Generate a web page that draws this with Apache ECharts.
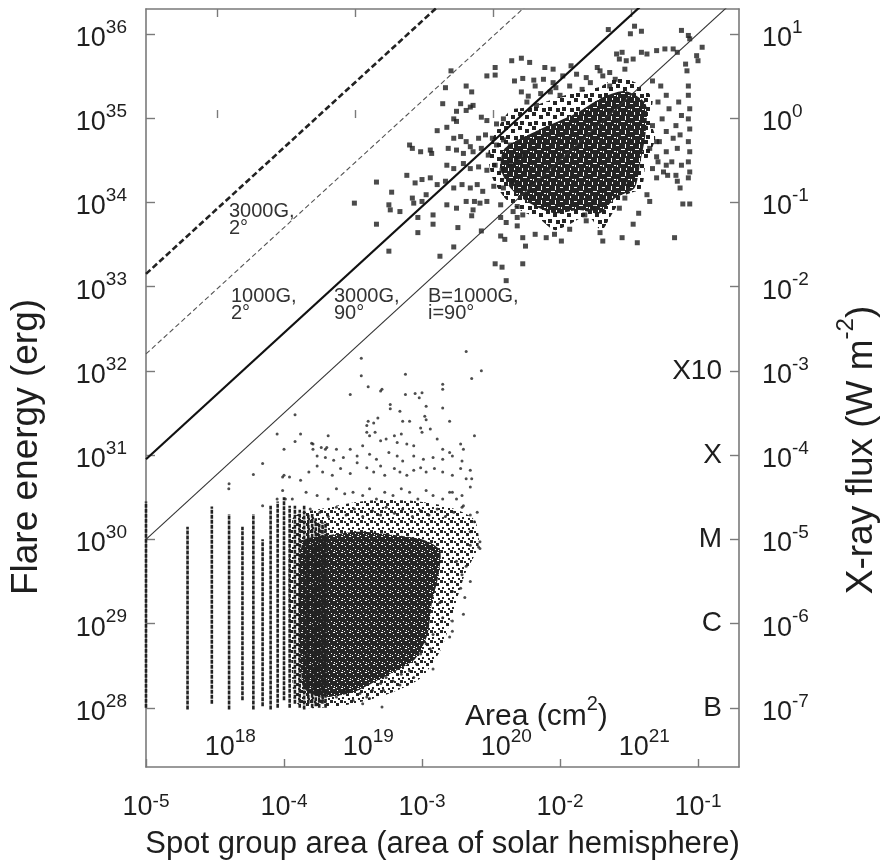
<!DOCTYPE html>
<html><head><meta charset="utf-8">
<script src="https://cdn.jsdelivr.net/npm/echarts@6/dist/echarts.min.js"></script>
<style>html,body{margin:0;padding:0;background:#fff}#chart{width:881px;height:865px}</style>
</head><body><div id="chart"></div>
<script>
// ---------- axis / tick values (all in log10 units) ----------
const xTickExps = [-5, -4, -3, -2, -1];            // area of solar hemisphere
const cmTickExps = [18, 19, 20, 21];               // area in cm^2
const yTickExps = [28, 29, 30, 31, 32, 33, 34, 35, 36]; // flare energy (erg)
const fluxTickExps = [-7, -6, -5, -4, -3, -2, -1, 0, 1]; // X-ray flux (W m^-2)
const flareClassExps = [-7, -6, -5, -4, -3];
const flareClassNames = ['B', 'C', 'M', 'X', 'X10'];
const xRange = [-5, -0.703];
const yRange = [27.298, 36.294];
const fluxOffset = 35;          // log10 erg -> log10 W m^-2
const hemisphereLogCm2 = 22.483; // log10(2 pi R_sun^2)

// ---------- model lines  [log area, log energy] ----------
const lineB1000i90 = [[-5, 30.0], [-0.7, 36.45]];
const lineB3000i90 = [[-5, 30.95], [-1.2, 36.65]];
const lineB1000i2 = [[-5, 32.2], [-2.0, 36.7]];
const lineB3000i2 = [[-5, 33.15], [-2.5, 36.9]];

// ---------- solar flares: quantised spot areas (vertical stripes) ----------
const stripeLogArea = [-5, -4.699, -4.523, -4.398, -4.301, -4.222, -4.155, -4.097, -4.046, -4.000, -3.959, -3.921, -3.886, -3.854, -3.824, -3.796, -3.770, -3.745, -3.721, -3.699];
const stripeLogELow = [28.0, 27.98, 28.05, 27.98, 28.09, 27.98, 28.02, 27.98, 28.0, 28.09, 28.0, 28.05, 28.0, 27.98, 28.05, 28.0, 28.02, 28.0, 28.05, 28.0];
const stripeLogEHigh = [30.45, 30.15, 30.39, 30.3, 30.15, 30.3, 30.0, 30.4, 30.45, 30.5, 30.4, 30.4, 30.35, 30.4, 30.3, 30.3, 30.25, 30.2, 30.2, 30.2];

// ---------- solar flares: dense region outlines ----------
const solarHalo = [[-3.94,30.23],[-3.67,30.38],[-3.38,30.46],[-3.09,30.46],[-2.80,30.38],[-2.62,30.23],[-2.59,29.93],[-2.69,29.58],[-2.78,29.11],[-2.86,28.70],[-3.01,28.35],[-3.27,28.15],[-3.56,28.03],[-3.85,28.00],[-3.93,28.11]];
const solarCore = [[-3.87,29.96],[-3.67,30.05],[-3.45,30.09],[-3.20,30.05],[-2.98,29.99],[-2.87,29.87],[-2.88,29.58],[-2.93,29.23],[-2.96,28.87],[-3.05,28.58],[-3.20,28.43],[-3.34,28.31],[-3.49,28.19],[-3.67,28.13],[-3.81,28.17],[-3.87,28.29]];

// ---------- solar flares: individual points ----------
const solarFlares = [[-2.68,32.23],[-2.57,32.00],[-2.64,31.91],[-3.44,32.15],[-3.44,31.94],[-3.12,31.96],[-3.39,31.81],[-3.30,31.76],[-3.29,31.78],[-3.52,31.72],[-3.12,31.72],[-3.05,31.73],[-3.00,31.74],[-3.02,31.68],[-2.85,31.84],[-2.85,31.78],[-3.92,31.48],[-3.23,31.60],[-3.23,31.55],[-3.16,31.52],[-2.97,31.58],[-2.98,31.46],[-2.97,31.42],[-2.85,31.56],[-2.80,31.40],[-3.39,31.40],[-3.40,31.35],[-3.35,31.38],[-3.32,31.44],[-3.14,31.40],[-3.09,31.40],[-3.01,31.32],[-3.00,31.27],[-2.94,31.31],[-4.05,31.25],[-3.88,31.25],[-3.92,31.16],[-3.68,31.23],[-2.62,31.23],[-4.00,31.07],[-3.80,31.14],[-3.79,31.07],[-3.40,31.27],[-3.38,31.23],[-3.34,31.27],[-3.30,31.17],[-3.26,31.19],[-3.20,31.23],[-3.18,31.15],[-3.15,31.25],[-3.11,31.13],[-3.06,31.11],[-2.89,31.19],[-2.85,31.07],[-2.80,31.03],[-2.72,31.13],[-2.70,31.07],[-3.70,31.07],[-3.62,31.07],[-3.52,31.07],[-3.43,31.11],[-3.76,30.99],[-3.70,30.97],[-3.64,30.94],[-3.57,30.97],[-3.47,30.99],[-3.38,31.01],[-3.33,30.95],[-3.24,31.03],[-3.18,30.99],[-3.14,30.93],[-3.06,30.99],[-2.99,30.95],[-2.92,30.97],[-2.85,30.95],[-2.78,30.99],[-2.71,30.93],[-2.65,30.82],[-2.64,30.72],[-3.82,30.80],[-3.76,30.87],[-3.72,30.80],[-3.65,30.76],[-3.59,30.84],[-3.52,30.78],[-3.47,30.91],[-3.40,30.85],[-3.35,30.80],[-3.30,30.87],[-3.27,30.76],[-3.20,30.84],[-3.16,30.80],[-3.11,30.76],[-3.06,30.82],[-3.01,30.85],[-2.97,30.80],[-2.91,30.84],[-2.85,30.80],[-2.78,30.76],[-2.72,30.84],[-2.68,30.72],[-4.01,30.74],[-3.96,30.74],[-3.88,30.70],[-4.01,30.58],[-2.65,30.62],[-2.71,30.52],[-2.80,30.56],[-2.60,30.32],[-2.62,30.21],[-2.65,30.09],[-2.58,29.97],[-2.59,29.91],[-3.84,30.56],[-3.76,30.52],[-3.68,30.48],[-3.62,30.60],[-3.56,30.54],[-3.50,30.56],[-3.43,30.52],[-3.38,30.60],[-3.33,30.48],[-3.27,30.56],[-3.21,30.52],[-3.15,30.60],[-3.09,30.56],[-3.03,30.48],[-2.97,30.58],[-2.92,30.52],[-2.85,30.48],[-2.78,30.56],[-2.75,30.48],[-2.70,30.40],[-2.65,29.93],[-2.58,29.89],[-2.75,29.74],[-2.68,29.68],[-2.71,29.58],[-2.65,29.50],[-2.78,29.38],[-2.72,29.42],[-2.69,29.31],[-2.70,29.11],[-2.87,29.25],[-2.85,29.07],[-2.78,29.03],[-2.78,28.91],[-2.80,28.84],[-2.89,28.99],[-2.92,28.87],[-2.97,28.76],[-2.94,28.70],[-2.92,28.46],[-3.01,28.64],[-3.04,28.52],[-3.09,28.44],[-3.06,28.36],[-3.15,28.40],[-3.16,28.27],[-3.21,28.32],[-3.28,28.21],[-3.26,28.36],[-3.30,28.29],[-3.36,28.21],[-3.40,28.13],[-3.45,28.17],[-3.50,28.09],[-3.56,28.21],[-3.62,28.13],[-3.67,28.17],[-3.72,28.09],[-3.29,28.01],[-3.38,28.11],[-3.43,28.05],[-4.398,30.66],[-4.222,30.77],[-4.155,30.90],[-4.0,30.76],[-4.05,30.48],[-3.99,30.48],[-3.94,30.48],[-4.155,30.40],[-4.40,30.60],[-3.79,31.13],[-3.73,31.09],[-3.69,31.09],[-3.81,30.36],[-3.74,30.32],[-3.68,30.27],[-3.62,30.38],[-3.55,30.29],[-3.49,30.36],[-3.43,30.27],[-3.36,30.34],[-3.30,30.29],[-3.26,30.38],[-3.20,30.31],[-3.14,30.36],[-3.07,30.27],[-3.01,30.34],[-2.95,30.29],[-2.89,30.36],[-2.83,30.27],[-2.77,30.32],[-2.71,30.38],[-2.65,30.29]];

// ---------- superflares: dense region outlines ----------
const superHalo = [[-2.47,34.82],[-2.36,35.09],[-2.22,35.13],[-2.04,35.23],[-1.86,35.32],[-1.71,35.37],[-1.58,35.49],[-1.42,35.39],[-1.33,35.23],[-1.35,34.99],[-1.31,34.76],[-1.38,34.46],[-1.41,34.17],[-1.53,34.08],[-1.62,33.87],[-1.70,33.67],[-1.80,33.84],[-1.93,33.74],[-2.04,33.67],[-2.14,33.79],[-2.29,33.91],[-2.40,34.05],[-2.49,34.29],[-2.52,34.58]];
const superCore = [[-2.40,34.64],[-2.14,34.87],[-1.89,35.05],[-1.71,35.23],[-1.53,35.32],[-1.38,35.17],[-1.38,34.82],[-1.42,34.46],[-1.46,34.17],[-1.60,34.05],[-1.71,33.87],[-1.86,33.91],[-2.04,33.87],[-2.22,33.99],[-2.36,34.17],[-2.43,34.40]];

// ---------- superflares: individual points ----------
const superflares = [[-2.35,35.68],[-2.28,35.71],[-2.47,35.60],[-2.53,35.50],[-2.47,35.51],[-2.79,35.56],[-2.33,35.44],[-2.27,35.47],[-2.68,35.38],[-2.83,35.36],[-2.64,35.31],[-2.28,35.31],[-2.85,35.17],[-2.72,35.17],[-2.65,35.13],[-2.68,35.09],[-2.63,35.15],[-2.75,35.08],[-2.77,34.99],[-2.75,34.96],[-2.57,35.01],[-2.53,34.97],[-2.46,34.93],[-2.41,34.99],[-2.89,34.85],[-2.82,34.89],[-3.09,34.68],[-3.07,34.64],[-3.01,34.60],[-2.94,34.62],[-2.93,34.58],[-2.77,34.76],[-2.72,34.78],[-2.68,34.72],[-2.65,34.66],[-2.59,34.76],[-2.54,34.80],[-2.49,34.76],[-2.81,34.64],[-2.75,34.62],[-2.70,34.58],[-2.63,34.60],[-2.57,34.64],[-2.52,34.56],[-2.46,34.68],[-2.41,34.74],[-2.36,34.68],[-2.82,34.44],[-2.77,34.40],[-2.70,34.46],[-2.65,34.40],[-2.59,34.42],[-2.53,34.38],[-2.47,34.44],[-2.42,34.38],[-2.36,34.46],[-2.31,34.52],[-2.27,34.56],[-3.11,34.32],[-3.05,34.23],[-3.00,34.27],[-2.94,34.29],[-2.89,34.21],[-2.83,34.25],[-2.77,34.17],[-2.71,34.21],[-2.65,34.17],[-2.60,34.21],[-2.56,34.13],[-2.48,34.19],[-2.41,34.17],[-2.34,34.25],[-3.33,34.24],[-3.22,34.12],[-3.49,33.99],[-3.24,33.97],[-3.23,33.91],[-3.16,33.89],[-3.07,34.05],[-3.06,33.99],[-3.00,34.01],[-2.97,34.09],[-2.82,33.97],[-2.75,33.93],[-2.68,34.01],[-2.62,34.01],[-2.58,33.99],[-2.53,34.01],[-2.63,33.91],[-2.43,33.97],[-3.03,33.82],[-2.92,33.85],[-3.33,33.74],[-3.03,33.64],[-2.92,33.74],[-2.74,33.70],[-2.64,33.84],[-2.57,33.66],[-2.43,33.82],[-2.39,33.76],[-2.34,33.89],[-2.31,33.95],[-2.27,33.85],[-3.24,33.42],[-2.77,33.47],[-2.87,33.36],[-2.43,33.60],[-2.40,33.56],[-2.47,33.27],[-2.42,33.23],[-2.27,33.27],[-2.25,33.48],[-2.27,33.58],[-2.39,33.07],[-1.65,36.05],[-1.49,36.00],[-1.46,36.09],[-1.41,36.03],[-1.12,36.04],[-1.07,35.98],[-1.06,35.94],[-0.97,35.84],[-1.01,35.74],[-1.00,35.68],[-1.59,35.76],[-1.55,35.78],[-1.57,35.70],[-1.52,35.68],[-1.47,35.70],[-1.41,35.78],[-1.37,35.76],[-1.30,35.80],[-1.24,35.82],[-1.18,35.82],[-1.15,35.78],[-1.09,35.64],[-1.08,35.56],[-2.11,35.60],[-1.92,35.62],[-1.71,35.56],[-1.69,35.50],[-1.64,35.54],[-1.60,35.46],[-1.53,35.58],[-2.19,35.45],[-2.12,35.46],[-2.05,35.42],[-1.93,35.38],[-1.84,35.34],[-1.81,35.48],[-2.23,35.26],[-2.14,35.29],[-2.07,35.31],[-2.00,35.27],[-2.24,35.19],[-2.17,35.15],[-1.07,35.38],[-1.07,35.27],[-1.06,35.11],[-1.07,34.99],[-1.06,34.87],[-1.07,34.72],[-1.06,34.60],[-1.07,34.48],[-1.06,34.36],[-1.07,34.29],[-1.14,35.19],[-1.12,35.03],[-1.16,34.91],[-1.13,34.80],[-1.15,34.64],[-1.12,34.44],[-1.16,34.32],[-1.13,34.17],[-1.11,33.98],[-1.06,33.98],[-1.17,33.58],[-1.44,33.52],[-1.47,33.74],[-1.55,33.58],[-1.43,33.87],[-1.37,34.09],[-1.35,34.01],[-1.30,34.29],[-1.25,34.36],[-1.23,34.44],[-1.35,34.64],[-1.30,34.54],[-1.28,34.72],[-1.69,33.54],[-1.71,33.64],[-2.18,33.62],[-2.10,33.58],[-2.04,33.62],[-1.99,33.54],[-1.93,33.68],[-2.31,33.72],[-2.31,33.82],[-1.81,33.78],[-1.82,33.85],[-1.76,33.93],[-1.57,33.93],[-1.53,34.05],[-1.50,34.21],[-1.33,35.44],[-1.27,35.38],[-1.23,35.27],[-1.29,35.19],[-1.21,35.11],[-1.26,34.99],[-1.33,34.91],[-1.23,34.84],[-1.18,34.76],[-1.30,34.72],[-1.23,34.60],[-1.19,34.48],[-1.29,34.48],[-1.22,34.32],[-1.33,34.40],[-1.15,34.25],[-2.22,35.66],[-2.05,35.58],[-1.98,35.50],[-1.88,35.52],[-1.78,35.42],[-1.73,35.60],[-1.64,35.38],[-2.03,35.36],[-2.18,35.38]];

// ---------- styling helpers ----------
const FONT = '"Liberation Sans", Arial, Helvetica, sans-serif';
const TXT = '#1e1e1e';
const AX = '#7a7a7a';
function richFor(lineH) {
  return {
    b: { fontFamily: FONT, fontSize: 27, lineHeight: lineH, verticalAlign: 'bottom', color: TXT },
    s: { fontFamily: FONT, fontSize: 19, lineHeight: 19, verticalAlign: 'top', color: TXT }
  };
}
const powLabel = v => '{b|10}{s|' + v + '}';
const axLine = { show: true, onZero: false, lineStyle: { color: AX, width: 1.6 } };
const tickStyle = { color: AX, width: 1.4 };

// speckle textures for the densest parts of the point clouds
function makeTile(w, h, bg, rects, color) {
  const c = document.createElement('canvas');
  c.width = w; c.height = h;
  const g = c.getContext('2d');
  if (bg) { g.fillStyle = bg; g.fillRect(0, 0, w, h); }
  g.fillStyle = color;
  rects.forEach(r => g.fillRect(r[0], r[1], r[2], r[3]));
  return { image: c, repeat: 'repeat' };
}
const solarCoreTex = makeTile(8, 8, '#262626', [[1,2,1,1],[5,0,2,1],[3,5,1,1],[6,6,1,1],[0,7,1,1]], '#ffffff');
const solarHaloTex = makeTile(10, 10, null, [[0,0,3,3],[6,3,3,3],[2,7,2,2],[8,8,2,2],[4,1,2,2]], '#262626');
const superCoreTex = makeTile(14, 14, '#242424', [[4,0,1,3],[0,5,3,1],[9,4,1,4],[5,9,4,1],[12,11,2,1],[10,0,1,2],[1,11,1,2]], '#ffffff');
const superHaloTex = makeTile(14, 14, null, [[0,0,4,4],[7,3,4,4],[2,9,4,4],[10,10,4,4]], '#242424');

function polygonSeries(points, fill, z) {
  return {
    type: 'custom', coordinateSystem: 'cartesian2d', xAxisIndex: 0, yAxisIndex: 0,
    z: z, silent: true, data: points, encode: { x: 0, y: 1 },
    renderItem: function (params, api) {
      if (params.dataIndex !== 0) return;
      return { type: 'polygon', shape: { points: points.map(p => api.coord(p)), smooth: 0.25 }, style: { fill: fill } };
    }
  };
}
function lineSeries(data, color, width, type, z) {
  return { type: 'line', data: data, xAxisIndex: 0, yAxisIndex: 0, symbol: 'none', clip: true, z: z,
    lineStyle: { color: color, width: width, type: type }, silent: true };
}

const stripeData = stripeLogArea.map((a, i) => [a, stripeLogELow[i], stripeLogEHigh[i]]);

const chart = echarts.init(document.getElementById('chart'), null, { renderer: 'canvas' });
chart.setOption({
  animation: false,
  backgroundColor: '#fff',
  grid: { left: 146, top: 9, width: 593, height: 765, containLabel: false },
  xAxis: [
    { type: 'value', min: xRange[0], max: xRange[1], position: 'bottom',
      axisLine: axLine,
      axisTick: { show: true, inside: true, length: 8, customValues: xTickExps, lineStyle: tickStyle },
      axisLabel: { customValues: xTickExps, formatter: powLabel, margin: 25, rich: richFor(29) },
      splitLine: { show: false },
      name: 'Spot group area (area of solar hemisphere)', nameLocation: 'middle', nameGap: 62,
      nameTextStyle: { fontFamily: FONT, fontSize: 31, color: TXT } },
    { type: 'value', min: xRange[0] + hemisphereLogCm2, max: xRange[1] + hemisphereLogCm2, position: 'bottom',
      axisLine: { show: false },
      axisTick: { show: true, inside: true, length: 8, customValues: cmTickExps, lineStyle: tickStyle },
      axisLabel: { inside: true, customValues: cmTickExps, formatter: powLabel, margin: 6, padding: [0, 0, 0, 26], rich: richFor(34) },
      splitLine: { show: false } },
    { type: 'value', min: xRange[0] + hemisphereLogCm2, max: xRange[1] + hemisphereLogCm2, position: 'top',
      axisLine: axLine,
      axisTick: { show: true, inside: true, length: 8, customValues: cmTickExps, lineStyle: tickStyle },
      axisLabel: { show: false }, splitLine: { show: false } }
  ],
  yAxis: [
    { type: 'value', min: yRange[0], max: yRange[1], position: 'left',
      axisLine: axLine,
      axisTick: { show: true, inside: true, length: 9, customValues: yTickExps, lineStyle: tickStyle },
      axisLabel: { customValues: yTickExps, formatter: powLabel, margin: 19, padding: [2, 0, 0, 0], rich: richFor(34) },
      splitLine: { show: false } },
    { type: 'value', min: yRange[0] - fluxOffset, max: yRange[1] - fluxOffset, position: 'right',
      axisLine: axLine,
      axisTick: { show: true, inside: true, length: 9, customValues: fluxTickExps, lineStyle: tickStyle },
      axisLabel: { customValues: fluxTickExps, formatter: powLabel, margin: 23, padding: [2, 0, 0, 0], rich: richFor(34) },
      splitLine: { show: false } },
    { type: 'value', min: yRange[0] - fluxOffset, max: yRange[1] - fluxOffset, position: 'right',
      axisLine: { show: false }, axisTick: { show: false },
      axisLabel: { inside: true, customValues: flareClassExps, margin: 17, padding: [4, 0, 0, 0],
        formatter: v => flareClassNames[flareClassExps.indexOf(Math.round(v))],
        fontFamily: FONT, fontSize: 28, color: TXT },
      splitLine: { show: false } }
  ],
  series: [
    polygonSeries(solarHalo, solarHaloTex, 1),
    polygonSeries(solarCore, solarCoreTex, 2),
    polygonSeries(superHalo, superHaloTex, 1),
    polygonSeries(superCore, superCoreTex, 2),
    { type: 'custom', coordinateSystem: 'cartesian2d', xAxisIndex: 0, yAxisIndex: 0, z: 3, silent: true,
      data: stripeData, encode: { x: 0, y: [1, 2] },
      renderItem: function (params, api) {
        const p1 = api.coord([api.value(0), api.value(1)]);
        const p2 = api.coord([api.value(0), api.value(2)]);
        return { type: 'line', shape: { x1: p1[0], y1: p1[1], x2: p2[0], y2: p2[1] },
          style: { stroke: '#222', lineWidth: 2.6, lineDash: [4, 1] } };
      } },
    { type: 'scatter', data: solarFlares, xAxisIndex: 0, yAxisIndex: 0, z: 4, symbol: 'circle', symbolSize: 3,
      itemStyle: { color: '#222' }, silent: true },
    { type: 'scatter', data: superflares, xAxisIndex: 0, yAxisIndex: 0, z: 4, symbol: 'rect', symbolSize: 5,
      itemStyle: { color: '#1e1e1e' }, silent: true },
    lineSeries(lineB3000i2, '#222', 2.6, [6, 3], 5),
    lineSeries(lineB1000i2, '#555', 1.1, [5, 3], 5),
    lineSeries(lineB3000i90, '#111', 2.2, 'solid', 5),
    lineSeries(lineB1000i90, '#333', 1.1, 'solid', 5)
  ],
  graphic: [
    { type: 'text', x: 27, y: 447, rotation: Math.PI / 2, z: 10,
      style: { text: 'Flare energy (erg)', fontFamily: FONT, fontSize: 37, fill: TXT, align: 'center', verticalAlign: 'middle' } },
    { type: 'text', x: 857, y: 450, rotation: Math.PI / 2, z: 10,
      style: { text: '{t|X-ray flux (W m}{s|-2}{t|)}', align: 'center', verticalAlign: 'middle', rich: {
        t: { fontFamily: FONT, fontSize: 37, lineHeight: 46, verticalAlign: 'bottom', fill: TXT },
        s: { fontFamily: FONT, fontSize: 24, lineHeight: 24, verticalAlign: 'top', fill: TXT } } } },
    { type: 'text', left: 229, top: 201, z: 10, style: { text: '3000G,\n2°', fontFamily: FONT, fontSize: 20, lineHeight: 17, fill: '#333' } },
    { type: 'text', left: 231, top: 286, z: 10, style: { text: '1000G,\n2°', fontFamily: FONT, fontSize: 20, lineHeight: 17, fill: '#333' } },
    { type: 'text', left: 334, top: 286, z: 10, style: { text: '3000G,\n90°', fontFamily: FONT, fontSize: 20, lineHeight: 17, fill: '#333' } },
    { type: 'text', left: 428, top: 286, z: 10, style: { text: 'B=1000G,\ni=90°', fontFamily: FONT, fontSize: 20, lineHeight: 17, fill: '#333' } },
    { type: 'text', left: 465, top: 694, z: 10, style: { text: '{b|Area (cm}{s|2}{b|)}', rich: {
        b: { fontFamily: FONT, fontSize: 30, lineHeight: 38, verticalAlign: 'bottom', fill: TXT },
        s: { fontFamily: FONT, fontSize: 20, lineHeight: 20, verticalAlign: 'top', fill: TXT } } } }
  ]
});
</script></body></html>
